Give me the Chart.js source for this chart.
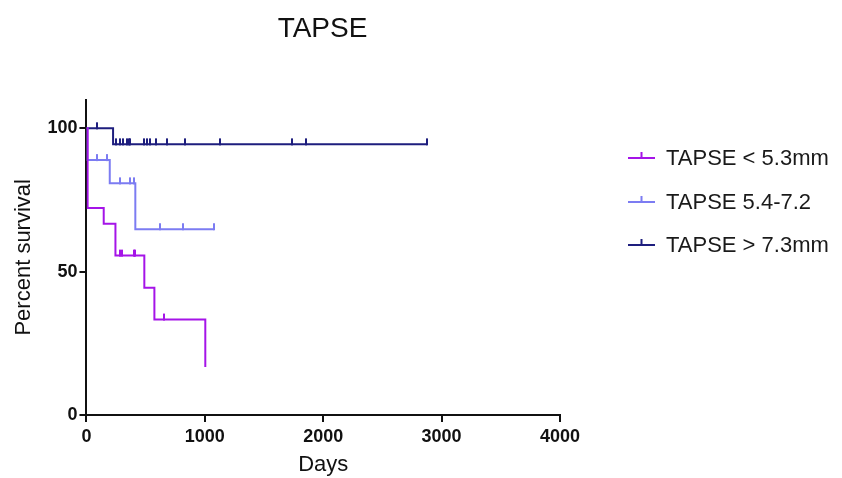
<!DOCTYPE html>
<html>
<head>
<meta charset="utf-8">
<script src="https://cdn.jsdelivr.net/npm/chart.js@4/dist/chart.umd.min.js"></script>
<style>
  html, body { margin: 0; padding: 0; background: #fff; }
  #wrap { width: 842px; height: 478px; }
</style>
</head>
<body>
<div id="wrap"><canvas id="chart"></canvas></div>
<script>
const seriesNames = ['TAPSE < 5.3mm', 'TAPSE 5.4-7.2', 'TAPSE > 7.3mm'];
const seriesColors = ['#a514e8', '#7c7cf2', '#1e1e7e'];

// step points: day of event, percent survival after it
const lowDays = [0, 10, 146, 245, 489, 574, 1004];
const lowSurv = [100, 72.2, 66.7, 55.6, 44.4, 33.3, 16.7];
const midDays = [0, 8, 197, 413, 1080];
const midSurv = [100, 88.9, 80.8, 64.8, 64.8];
const highDays = [0, 225, 2875];
const highSurv = [100, 94.4, 94.4];

// censored subjects (tick marks)
const lowCensDays = [287, 301, 400, 413, 652];
const lowCensSurv = [55.6, 55.6, 55.6, 55.6, 33.3];
const midCensDays = [90, 175, 281, 366, 405, 619, 816, 1074];
const midCensSurv = [88.9, 88.9, 80.8, 80.8, 80.8, 64.8, 64.8, 64.8];
const highCensDays = [90, 253, 281, 310, 344, 357, 371, 484, 512, 534, 591, 681, 830, 1131, 1736, 1857, 2875];
const highCensSurv = [100, 94.4, 94.4, 94.4, 94.4, 94.4, 94.4, 94.4, 94.4, 94.4, 94.4, 94.4, 94.4, 94.4, 94.4, 94.4, 94.4];

const xTicks = [0, 1000, 2000, 3000, 4000];
const yTicks = [0, 50, 100];

const font = 'Arial, "Liberation Sans", Helvetica, sans-serif';

function toPoints(xs, ys) {
  return xs.map((x, i) => ({ x: x, y: ys[i] }));
}

// little vertical tick sitting on top of the curve
function censorMark(color) {
  const c = document.createElement('canvas');
  c.width = 2;
  c.height = 14;
  const g = c.getContext('2d');
  g.fillStyle = color;
  g.fillRect(0, 1, 2, 7);
  return c;
}

function stepSet(i, xs, ys) {
  return {
    type: 'line',
    label: seriesNames[i],
    data: toPoints(xs, ys),
    borderColor: seriesColors[i],
    borderWidth: 2,
    stepped: 'before',
    pointRadius: 0,
    fill: false
  };
}

function censSet(i, xs, ys) {
  return {
    type: 'scatter',
    label: seriesNames[i] + ' censored',
    data: toPoints(xs, ys),
    pointStyle: censorMark(seriesColors[i]),
    pointRadius: 4,
    showLine: false
  };
}

const legendPlugin = {
  id: 'kmLegend',
  afterDraw(chart) {
    const g = chart.ctx;
    const rows = [158, 202, 245];
    g.save();
    g.font = '22px ' + font;
    g.textBaseline = 'middle';
    seriesNames.forEach((name, i) => {
      const y = rows[i];
      g.strokeStyle = seriesColors[i];
      g.lineWidth = 2;
      g.beginPath();
      g.moveTo(628, y);
      g.lineTo(655, y);
      g.moveTo(641.5, y);
      g.lineTo(641.5, y - 6);
      g.stroke();
      g.fillStyle = '#1a1a1a';
      g.fillText(name, 666, y + 1);
    });
    g.restore();
  }
};

const axisTitleFont = { family: font, size: 22 };
const tickFont = { family: font, size: 18, weight: 'bold' };

new Chart(document.getElementById('chart'), {
  data: {
    datasets: [
      stepSet(0, lowDays, lowSurv),
      stepSet(1, midDays, midSurv),
      stepSet(2, highDays, highSurv),
      censSet(0, lowCensDays, lowCensSurv),
      censSet(1, midCensDays, midCensSurv),
      censSet(2, highCensDays, highCensSurv)
    ]
  },
  options: {
    responsive: true,
    maintainAspectRatio: false,
    animation: false,
    layout: { padding: { left: 11, right: 208, top: 0, bottom: 0 } },
    plugins: {
      legend: { display: false },
      tooltip: { enabled: false },
      title: {
        display: true,
        text: 'TAPSE',
        color: '#111',
        font: { family: font, size: 28, weight: 'normal' },
        padding: { top: 12, bottom: 54 }
      }
    },
    scales: {
      x: {
        type: 'linear',
        min: 0,
        max: 4000,
        afterBuildTicks: s => { s.ticks = xTicks.map(v => ({ value: v })); },
        ticks: { color: '#111', font: tickFont, padding: 4, callback: v => String(v) },
        grid: { drawOnChartArea: false, drawTicks: true, tickLength: 7, color: '#111', lineWidth: 2 },
        border: { color: '#111', width: 2 },
        title: { display: true, text: 'Days', color: '#111', font: axisTitleFont, padding: { top: 0, bottom: 0 } }
      },
      y: {
        min: 0,
        max: 110,
        afterBuildTicks: s => { s.ticks = yTicks.map(v => ({ value: v })); },
        ticks: { color: '#111', font: tickFont, padding: 2 },
        grid: { drawOnChartArea: false, drawTicks: true, tickLength: 7, color: '#111', lineWidth: 2 },
        border: { color: '#111', width: 2 },
        title: { display: true, text: 'Percent survival', color: '#111', font: axisTitleFont, padding: { top: 0, bottom: 8 } }
      },
      // empty right-hand strip that keeps room for the legend
      spacer: {
        type: 'linear',
        position: 'right',
        display: true,
        ticks: { display: false },
        grid: { display: false },
        border: { display: false },
        afterFit: s => { s.width = 74; }
      }
    }
  },
  plugins: [legendPlugin]
});
</script>
</body>
</html>
